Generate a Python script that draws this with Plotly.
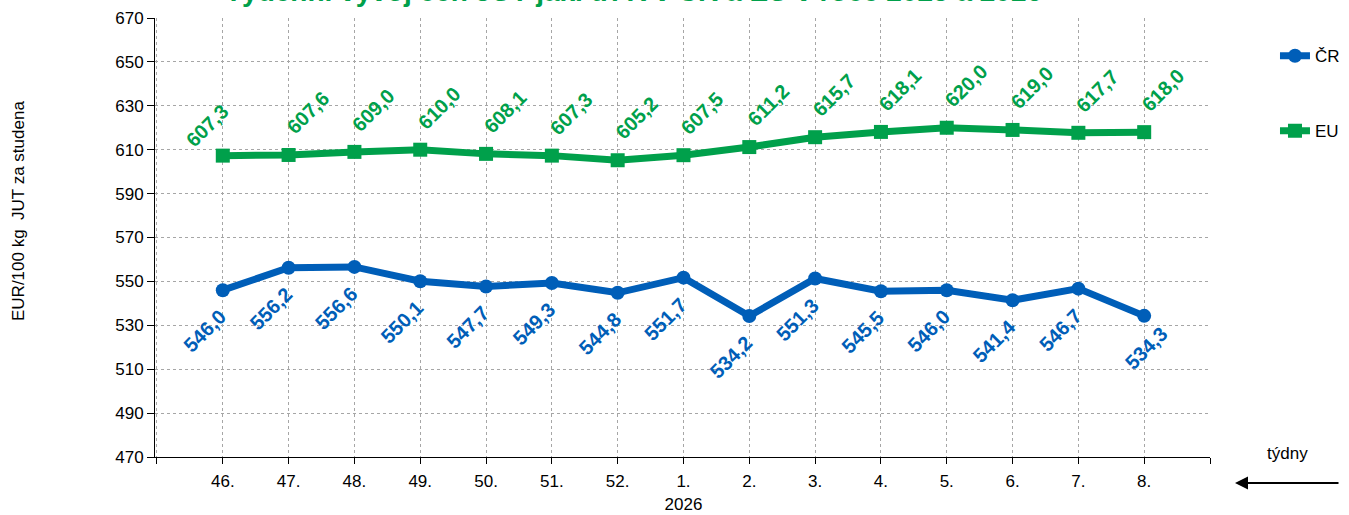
import plotly.graph_objects as go

weeks = ["46.", "47.", "48.", "49.", "50.", "51.", "52.", "1.", "2.", "3.", "4.", "5.", "6.", "7.", "8."]
year_label = "2026"
cr = [546.0, 556.2, 556.6, 550.1, 547.7, 549.3, 544.8, 551.7, 534.2, 551.3, 545.5, 546.0, 541.4, 546.7, 534.3]
eu = [607.3, 607.6, 609.0, 610.0, 608.1, 607.3, 605.2, 607.5, 611.2, 615.7, 618.1, 620.0, 619.0, 617.7, 618.0]
y_ticks = [470, 490, 510, 530, 550, 570, 590, 610, 630, 650, 670]

title_text = "Týdenní vývoj cen JUT jak. tř. R v ČR a EU v roce 2025 a 2026"
y_title = "EUR/100 kg  JUT za studena"
x_title = "týdny"

BLUE = "#005EB8"
GREEN = "#00A04B"
FONT = "Arial, Liberation Sans, sans-serif"

xs = list(range(len(weeks)))
tick_pos = list(range(-1, len(weeks) + 1))
tick_txt = [""] + [w + ("<br>" + year_label if w == "1." else "") for w in weeks] + [""]

fig = go.Figure()
fig.add_trace(go.Scatter(
    x=xs, y=cr, name="ČR", mode="lines+markers", legendgroup="cr",
    line=dict(color=BLUE, width=7),
    marker=dict(symbol="circle", size=14, color=BLUE),
))
fig.add_trace(go.Scatter(
    x=xs, y=eu, name="EU", mode="lines+markers", legendgroup="eu",
    line=dict(color=GREEN, width=7),
    marker=dict(symbol="square", size=14, color=GREEN),
))

def fmt(v):
    return "<b>" + f"{v:.1f}".replace(".", ",") + "</b>"

annotations = []
for i, v in enumerate(eu):
    dx, dy = (19, 42)
    if i == 0:
        dx, dy = (-16, 30)
    annotations.append(dict(
        x=i, y=v, xref="x", yref="y", text=fmt(v), showarrow=False,
        textangle=-45, xanchor="center", yanchor="middle",
        xshift=dx, yshift=dy,
        font=dict(family=FONT, size=20, color=GREEN),
    ))
for i, v in enumerate(cr):
    dx, dy = (-18, -41)
    if i == len(cr) - 1:
        dx, dy = (2, -32)
    annotations.append(dict(
        x=i, y=v, xref="x", yref="y", text=fmt(v), showarrow=False,
        textangle=-45, xanchor="center", yanchor="middle",
        xshift=dx, yshift=dy,
        font=dict(family=FONT, size=20, color=BLUE),
    ))

# title (partly cut off at the top, as in the reference)
annotations.append(dict(
    x=0.4536, y=1.061, xref="paper", yref="paper", text="<b>" + title_text + "</b>",
    showarrow=False, xanchor="center", yanchor="middle",
    font=dict(family=FONT, size=28, color=GREEN),
))
# y axis title
annotations.append(dict(
    x=-0.13, y=0.56, xref="paper", yref="paper", text=y_title, showarrow=False,
    textangle=-90, xanchor="center", yanchor="middle",
    font=dict(family=FONT, size=17, color="black"),
))
# x axis title
annotations.append(dict(
    x=1.073, y=0.009, xref="paper", yref="paper", text=x_title, showarrow=False,
    xanchor="center", yanchor="middle",
    font=dict(family=FONT, size=17, color="black"),
))
# arrow
annotations.append(dict(
    x=1.0237, y=-0.059, xref="paper", yref="paper", text="", showarrow=True,
    ax=105, ay=0, axref="pixel", ayref="pixel",
    arrowhead=2, arrowsize=1.3, arrowwidth=2, arrowcolor="black",
))

fig.update_layout(
    width=1349, height=515,
    margin=dict(l=155, r=139, t=18, b=58, autoexpand=False),
    plot_bgcolor="white", paper_bgcolor="white",
    font=dict(family=FONT, size=17, color="black"),
    annotations=annotations,
    showlegend=True,
    legend=dict(
        x=1.0616, y=0.954, xanchor="left", yanchor="top",
        font=dict(family=FONT, size=17, color="black"),
        tracegroupgap=50, bgcolor="rgba(0,0,0,0)",
    ),
)
fig.update_xaxes(
    range=[-1.03, 15.0], tickmode="array", tickvals=tick_pos, ticktext=tick_txt,
    showgrid=True, gridcolor="#a6a6a6", griddash="dot", gridwidth=1,
    showline=True, linecolor="black", linewidth=1,
    ticks="outside", ticklen=6, tickcolor="black", ticklabelstandoff=3,
    tickfont=dict(family=FONT, size=17, color="black"),
    zeroline=False,
)
fig.update_yaxes(
    range=[470, 670], tickmode="array", tickvals=y_ticks,
    showgrid=True, gridcolor="#a6a6a6", griddash="dot", gridwidth=1,
    showline=True, linecolor="black", linewidth=1,
    ticks="outside", ticklen=7, tickcolor="black",
    tickfont=dict(family=FONT, size=17, color="black"),
    zeroline=False,
)

fig.write_html(
    "out.html",
    config={"displayModeBar": False},
    post_script="document.body.style.margin='0'; document.body.style.overflow='hidden';",
)
